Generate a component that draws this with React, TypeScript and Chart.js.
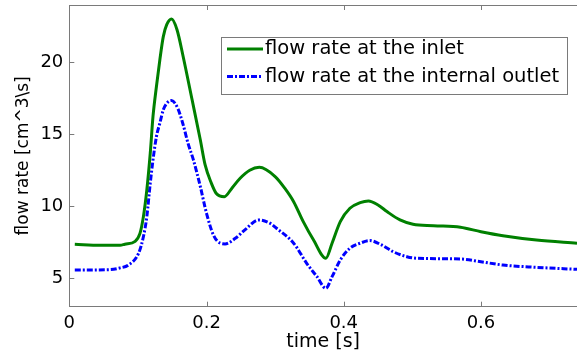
import React, { useEffect, useRef } from "react";
import { Chart, registerables } from "chart.js";

Chart.register(...registerables);

// time samples [s] and flow rate [cm^3/s]
const inletTime = [
  0.008, 0.045, 0.074, 0.081, 0.096, 0.103, 0.108, 0.113, 0.118, 0.122, 0.127,
  0.132, 0.137, 0.142, 0.149, 0.157, 0.166, 0.179, 0.191, 0.198, 0.207, 0.214,
  0.226, 0.237, 0.249, 0.263, 0.277, 0.3, 0.314, 0.327, 0.341, 0.356, 0.374,
  0.383, 0.395, 0.409, 0.424, 0.436, 0.45, 0.463, 0.482, 0.501, 0.531, 0.57,
  0.6, 0.632, 0.681, 0.74,
];
const inletFlow = [
  7.35, 7.27, 7.28, 7.35, 7.55, 8.1, 9.27, 11.13, 13.69, 16.24, 18.33, 20.19,
  21.8, 22.63, 23.02, 22.28, 20.4, 17.4, 14.6, 12.87, 11.6, 10.9, 10.66, 11.25,
  11.94, 12.5, 12.7, 12.06, 11.25, 10.31, 8.92, 7.64, 6.37, 7.42, 8.92, 9.85,
  10.24, 10.36, 10.08, 9.62, 9.04, 8.74, 8.64, 8.53, 8.22, 7.94, 7.64, 7.42,
];
const outletTime = [
  0.008, 0.059, 0.074, 0.086, 0.101, 0.108, 0.113, 0.118, 0.122, 0.127, 0.132,
  0.137, 0.143, 0.149, 0.158, 0.166, 0.173, 0.181, 0.191, 0.2, 0.21, 0.22,
  0.227, 0.242, 0.256, 0.276, 0.293, 0.302, 0.327, 0.346, 0.361, 0.374, 0.383,
  0.395, 0.409, 0.424, 0.438, 0.455, 0.472, 0.492, 0.506, 0.57, 0.6, 0.632,
  0.681, 0.74,
];
const outletFlow = [
  5.55, 5.58, 5.7, 5.9, 6.72, 7.87, 9.27, 11.6, 13.22, 14.84, 15.78, 16.7,
  17.21, 17.35, 16.82, 15.66, 14.38, 13.2, 11.36, 9.5, 8.0, 7.42, 7.37, 7.76,
  8.35, 9.04, 8.8, 8.46, 7.42, 6.02, 5.09, 4.28, 5.09, 6.25, 7.07, 7.42, 7.6,
  7.3, 6.83, 6.48, 6.37, 6.32, 6.13, 5.9, 5.74, 5.6,
];

const xTicks = [0, 0.2, 0.4, 0.6];
const yTicks = [5, 10, 15, 20];
const seriesLabels = ["flow rate at the inlet", "flow rate at the internal outlet"];
const xTitle = "time [s]";
const yTitle = "flow rate [cm^3\\s]";

const FONT = '"DejaVu Sans", "Liberation Sans", sans-serif';
const FRAME = "#7a7a7a";

const framePlugin = {
  id: "matlabFrame",
  afterDraw(chart: any) {
    const { ctx, chartArea } = chart;
    const xs = chart.scales.x;
    const ys = chart.scales.y;
    ctx.save();
    ctx.strokeStyle = FRAME;
    ctx.lineWidth = 1;
    ctx.beginPath();
    ctx.moveTo(chartArea.left, Math.round(chartArea.top) + 0.5);
    ctx.lineTo(chartArea.right, Math.round(chartArea.top) + 0.5);
    const tl = 5;
    xTicks.forEach((v) => {
      if (v === 0) return;
      const px = Math.round(xs.getPixelForValue(v)) + 0.5;
      ctx.moveTo(px, chartArea.bottom);
      ctx.lineTo(px, chartArea.bottom - tl);
      ctx.moveTo(px, chartArea.top);
      ctx.lineTo(px, chartArea.top + tl);
    });
    yTicks.forEach((v) => {
      const py = Math.round(ys.getPixelForValue(v)) + 0.5;
      ctx.moveTo(chartArea.left, py);
      ctx.lineTo(chartArea.left + tl, py);
    });
    ctx.stroke();
    ctx.restore();
  },
};

const legendPlugin = {
  id: "boxLegend",
  afterDatasetsDraw(chart: any) {
    const { ctx } = chart;
    const bx = 221.5, by = 37.5, bw = 346, bh = 57;
    ctx.save();
    ctx.fillStyle = "#ffffff";
    ctx.fillRect(bx, by, bw, bh);
    ctx.strokeStyle = FRAME;
    ctx.lineWidth = 1;
    ctx.strokeRect(bx, by, bw, bh);
    chart.data.datasets.forEach((ds: any, i: number) => {
      const y = 49 + i * 27.5;
      ctx.save();
      ctx.strokeStyle = ds.borderColor;
      ctx.lineWidth = ds.borderWidth;
      ctx.setLineDash(ds.borderDash || []);
      ctx.beginPath();
      ctx.moveTo(227, y);
      ctx.lineTo(263, y);
      ctx.stroke();
      ctx.restore();
      ctx.fillStyle = "#000";
      ctx.font = `19.5px ${FONT}`;
      ctx.textBaseline = "middle";
      ctx.textAlign = "left";
      ctx.fillText(ds.label, 265, y);
    });
    ctx.restore();
  },
};

export default function App() {
  const canvasRef = useRef<HTMLCanvasElement | null>(null);

  useEffect(() => {
    const canvas = canvasRef.current;
    if (!canvas) return;
    const chart = new Chart(canvas, {
      type: "line",
      data: {
        datasets: [
          {
            label: seriesLabels[0],
            data: inletTime.map((t, i) => ({ x: t, y: inletFlow[i] })),
            borderColor: "#008000",
            borderWidth: 3,
            pointRadius: 0,
            fill: false,
            cubicInterpolationMode: "monotone",
          },
          {
            label: seriesLabels[1],
            data: outletTime.map((t, i) => ({ x: t, y: outletFlow[i] })),
            borderColor: "#0000ff",
            borderWidth: 3,
            borderDash: [6, 2, 2, 2],
            pointRadius: 0,
            fill: false,
            cubicInterpolationMode: "monotone",
          },
        ],
      },
      options: {
        responsive: false,
        animation: false,
        devicePixelRatio: 1,
        layout: { padding: { top: 5, right: 0, left: 0, bottom: 0 } },
        plugins: {
          legend: { display: false },
          tooltip: { enabled: false },
        },
        scales: {
          x: {
            type: "linear",
            min: 0,
            max: 0.74,
            afterBuildTicks: (s: any) => {
              s.ticks = xTicks.map((v) => ({ value: v }));
            },
            afterFit: (s: any) => {
              s.height = 46.3;
              s.paddingLeft = 0;
              s.paddingRight = 0;
            },
            ticks: {
              color: "#000",
              font: { family: FONT, size: 18 },
              padding: 6,
              maxRotation: 0,
              autoSkip: false,
              callback: (v: any) => String(v),
            },
            grid: { display: false, drawTicks: false, tickLength: 0 },
            border: { display: true, color: FRAME, width: 1 },
            title: {
              display: true,
              text: xTitle,
              color: "#000",
              font: { family: FONT, size: 19 },
              padding: { top: 0, bottom: 0 },
            },
          },
          y: {
            type: "linear",
            min: 3,
            max: 24,
            afterBuildTicks: (s: any) => {
              s.ticks = yTicks.map((v) => ({ value: v }));
            },
            afterFit: (s: any) => {
              s.width = 69.3;
              s.paddingTop = 0;
              s.paddingBottom = 0;
            },
            ticks: {
              color: "#000",
              font: { family: FONT, size: 18 },
              padding: 6,
              autoSkip: false,
              callback: (v: any) => String(v),
            },
            grid: { display: false, drawTicks: false, tickLength: 0 },
            border: { display: true, color: FRAME, width: 1 },
            title: {
              display: true,
              text: yTitle,
              color: "#000",
              font: { family: FONT, size: 17 },
              padding: { top: 13, bottom: 0 },
            },
          },
        },
      },
      plugins: [framePlugin, legendPlugin],
    } as any);
    return () => chart.destroy();
  }, []);

  return (
    <div style={{ position: "fixed", left: 0, top: 0, width: 577, height: 353, background: "#fff" }}>
      <canvas ref={canvasRef} width={577} height={353} style={{ display: "block" }} />
    </div>
  );
}
